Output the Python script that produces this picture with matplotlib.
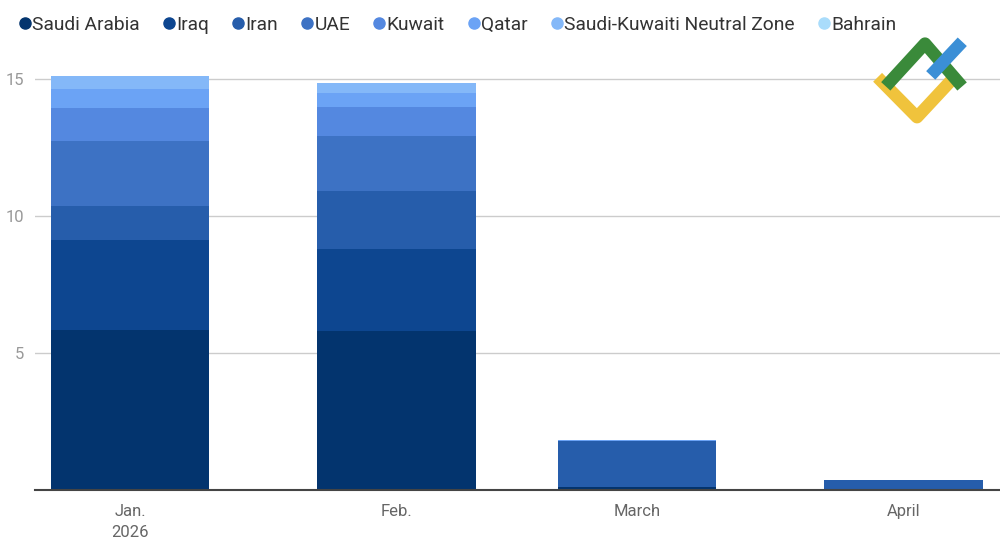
import matplotlib
matplotlib.use("Agg")
import matplotlib.pyplot as plt
import numpy as np
from matplotlib.lines import Line2D

plt.rcParams['font.family'] = ['Roboto', 'DejaVu Sans']

months = ["Jan.\n2026", "Feb.", "March", "April"]
series = ["Saudi Arabia", "Iraq", "Iran", "UAE", "Kuwait", "Qatar", "Saudi-Kuwaiti Neutral Zone", "Bahrain"]
saudi   = [5.84, 5.80, 0.12, 0.0]
iraq    = [3.28, 3.00, 0.0, 0.0]
iran    = [1.24, 2.11, 1.66, 0.36]
uae     = [2.38, 2.01, 0.0, 0.0]
kuwait  = [1.20, 1.06, 0.02, 0.0]
qatar   = [0.70, 0.51, 0.02, 0.0]
neutral = [0.47, 0.36, 0.0, 0.0]
bahrain = [0.0, 0.0, 0.0, 0.0]
values = [saudi, iraq, iran, uae, kuwait, qatar, neutral, bahrain]
colors = ["#03346e", "#0d4690", "#265dab", "#3d72c4", "#5488e0", "#6ba3f5", "#84b8f8", "#a9dcfb"]

fig = plt.figure(figsize=(10, 5.45), dpi=100)
ax = fig.add_axes([0.035, 0.101, 0.965, 0.789])
x = np.array([0, 1.035, 1.97, 3.005])
bottom = np.zeros(4)
for v, c in zip(values, colors):
    ax.bar(x, v, bottom=bottom, width=0.615, color=c, zorder=3)
    bottom += np.array(v)
ax.set_xlim(-0.37, 3.38)
ax.set_ylim(0, 15.7)
ax.set_yticks([5, 10, 15])
ax.set_yticklabels(["5", "10", "15"], color="#999999", fontsize=12)
ax.set_xticks(x)
ax.set_xticklabels(months, color="#666666", fontsize=12, linespacing=1.5)
ax.tick_params(axis="y", length=0, pad=8)
ax.tick_params(axis="x", length=0, pad=10)
ax.grid(axis="y", color="#cccccc", lw=1, zorder=0)
for s in ["top", "right", "left"]:
    ax.spines[s].set_visible(False)
ax.spines["bottom"].set_color("#444444")
ax.spines["bottom"].set_linewidth(1.5)
ax.spines["bottom"].set_zorder(4)

handles = [Line2D([], [], marker="o", ls="", color=c, markersize=8) for c in colors]
fig.legend(handles, series, loc="upper left", bbox_to_anchor=(-0.006, 1.003), ncol=8,
           frameon=False, fontsize=13.8, handletextpad=-0.3, columnspacing=0.8,
           handlelength=1.4, labelcolor="#333333")

# logo
fig.add_artist(Line2D([0.882, 0.917, 0.95], [0.85, 0.785, 0.85], color="#f0c33c", lw=9, transform=fig.transFigure))
fig.add_artist(Line2D([0.89, 0.925, 0.958], [0.85, 0.92, 0.85], color="#3a8a3a", lw=9, transform=fig.transFigure))
fig.add_artist(Line2D([0.935, 0.958], [0.87, 0.915], color="#3b8fd6", lw=9, transform=fig.transFigure))

fig.savefig("out.png", dpi=100)
